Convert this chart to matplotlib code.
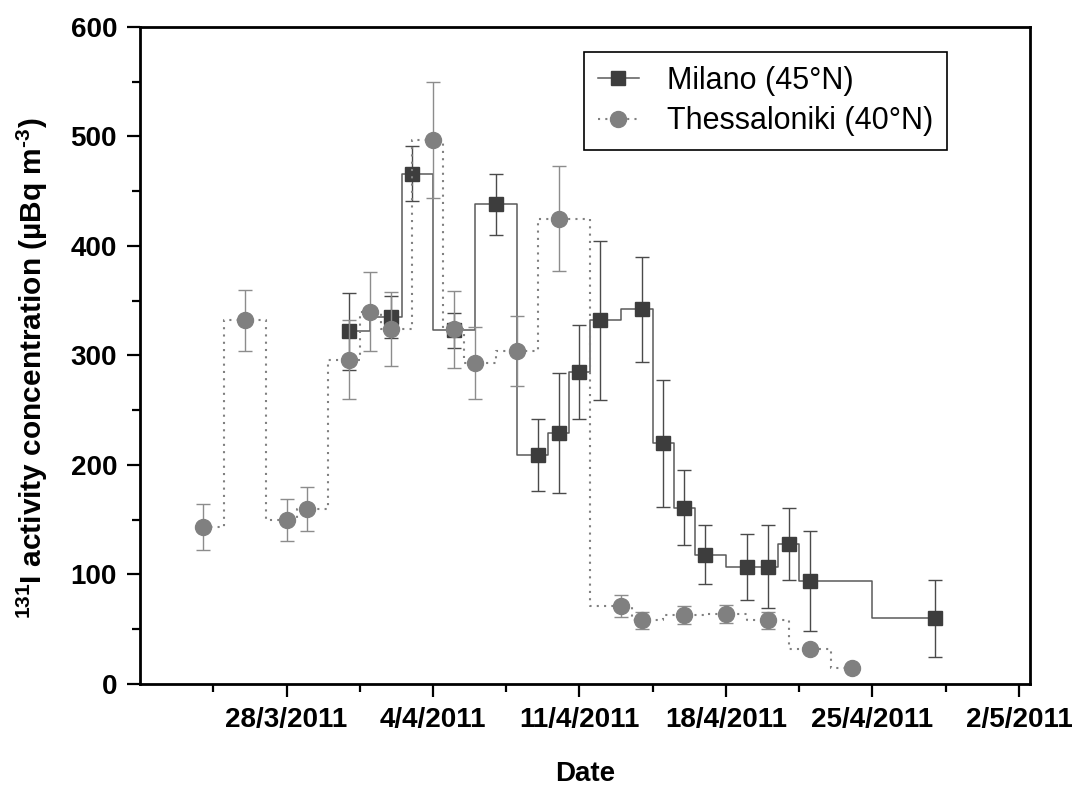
import numpy as np
import pandas as pd
import matplotlib
matplotlib.use("Agg")
import matplotlib.pyplot as plt
import matplotlib.dates as mdates
from matplotlib.lines import Line2D

plt.rcParams['font.family'] = ['Liberation Sans', 'DejaVu Sans']
plt.rcParams['mathtext.fontset'] = 'custom'
plt.rcParams['mathtext.rm'] = 'Liberation Sans'
plt.rcParams['mathtext.default'] = 'regular'

# Milano (45N)
mil_dates = ['31/3/2011', '2/4/2011', '3/4/2011', '5/4/2011', '7/4/2011', '9/4/2011',
             '10/4/2011', '11/4/2011', '12/4/2011', '14/4/2011', '15/4/2011', '16/4/2011',
             '17/4/2011', '19/4/2011', '20/4/2011', '21/4/2011', '22/4/2011', '28/4/2011']
mil_vals = [322, 335, 466, 323, 438, 209, 229, 285, 332, 342, 220, 161, 118, 107, 107, 128, 94, 60]
mil_err = [35, 19, 25, 16, 28, 33, 55, 43, 73, 48, 58, 34, 27, 30, 38, 33, 46, 35]

# Thessaloniki (40N)
the_dates = ['24/3/2011', '26/3/2011', '28/3/2011', '29/3/2011', '31/3/2011', '1/4/2011',
             '2/4/2011', '4/4/2011', '5/4/2011', '6/4/2011', '8/4/2011', '10/4/2011',
             '13/4/2011', '14/4/2011', '16/4/2011', '18/4/2011', '20/4/2011', '22/4/2011',
             '24/4/2011']
the_vals = [143, 332, 150, 160, 296, 340, 324, 497, 324, 293, 304, 425, 71, 58, 63, 64, 58, 32, 15]
the_err = [21, 28, 19, 20, 36, 36, 34, 53, 35, 33, 32, 48, 10, 8, 8, 8, 8, 3, 2]

tick_dates = ['28/3/2011', '4/4/2011', '11/4/2011', '18/4/2011', '25/4/2011', '2/5/2011']
tick_labels = ['28/3/2011', '4/4/2011', '11/4/2011', '18/4/2011', '25/4/2011', '2/5/2011']

xm = mdates.date2num(pd.to_datetime(mil_dates, dayfirst=True))
xt = mdates.date2num(pd.to_datetime(the_dates, dayfirst=True))
xticks = mdates.date2num(pd.to_datetime(tick_dates, dayfirst=True))

fig = plt.figure(figsize=(10.78, 7.87), dpi=100)
ax = fig.add_axes([0.1299, 0.1309, 0.8256, 0.8348])

# Milano
ax.errorbar(xm, mil_vals, yerr=mil_err, fmt='none', ecolor='#4a4a4a', elinewidth=1.0,
            capsize=4.8, capthick=1.0, zorder=2)
ax.plot(xm, mil_vals, drawstyle='steps-mid', color='#5a5a5a', lw=1.1,
        marker='s', ms=10, mfc='#3d3d3d', mec='#3d3d3d', zorder=3)

# Thessaloniki
ax.errorbar(xt, the_vals, yerr=the_err, fmt='none', ecolor='#8c8c8c', elinewidth=1.0,
            capsize=4.8, capthick=1.0, zorder=4)
ax.plot(xt, the_vals, drawstyle='steps-mid', color='#808080', lw=1.5, ls=(0, (1, 2.5)),
        marker='o', ms=11.5, mfc='#808080', mec='#808080', zorder=5)

ax.set_xlim(xticks[0] - 7, xticks[-1] + 0.53)
ax.set_ylim(0, 600)
ax.set_xticks(xticks)
ax.set_xticklabels(tick_labels)
ax.set_xticks(np.append(xticks[0] - 3.5, xticks + 3.5)[:-1], minor=True)
ax.set_yticks(np.arange(0, 601, 100))
ax.set_yticks(np.arange(50, 600, 100), minor=True)

ax.tick_params(which='major', direction='out', length=9.5, width=1.6, labelsize=20, pad=7)
ax.tick_params(which='minor', direction='out', length=5.5, width=1.6)
for lab in ax.get_xticklabels() + ax.get_yticklabels():
    lab.set_fontweight('bold')
for sp in ax.spines.values():
    sp.set_linewidth(2.0)

ax.set_xlabel('Date', fontsize=20, fontweight='bold', labelpad=20)
ax.set_ylabel('$^{131}$I activity concentration (µBq m$^{\u20103}$)', fontsize=21.5,
              fontweight='bold')
ax.yaxis.set_label_coords(-0.101, 0.48)

handles = [
    Line2D([], [], color='#5a5a5a', lw=1.1, marker='s', ms=10, mfc='#3d3d3d', mec='#3d3d3d'),
    Line2D([], [], color='#808080', lw=1.5, ls=(0, (1, 2.5)), marker='o', ms=11.5,
           mfc='#808080', mec='#808080'),
]
leg = ax.legend(handles, ['Milano (45°N)', 'Thessaloniki (40°N)'], loc='upper left',
                bbox_to_anchor=(0.4989, 0.962), borderaxespad=0, fontsize=22,
                handlelength=1.35, handletextpad=0.9, labelspacing=0.35,
                fancybox=False, framealpha=1, edgecolor='black', borderpad=0.45)
leg.get_frame().set_linewidth(1.2)

fig.savefig('out.png', dpi=100)
